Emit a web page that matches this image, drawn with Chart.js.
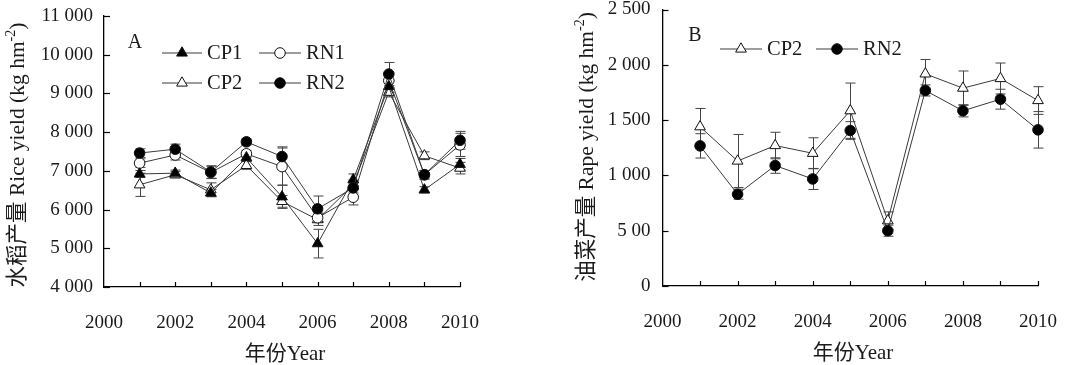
<!DOCTYPE html>
<html>
<head>
<meta charset="utf-8">
<script src="https://cdn.jsdelivr.net/npm/chart.js@4.4.1/dist/chart.umd.min.js"></script>
<style>
  html, body { margin: 0; padding: 0; background: #fff; }
  #wrap { position: relative; width: 1075px; height: 365px; }
  .panel { position: absolute; top: 0; height: 365px; }
</style>
</head>
<body>
<div id="wrap">
  <div class="panel" style="left:0;width:540px"><canvas id="chartA" width="540" height="365"></canvas></div>
  <div class="panel" style="left:540px;width:535px"><canvas id="chartB" width="535" height="365"></canvas></div>
</div>
<script>
const years = [2001, 2002, 2003, 2004, 2005, 2006, 2007, 2008, 2009, 2010];
const xLabelYears = [2000, 2002, 2004, 2006, 2008, 2010];

// rice yield (kg/hm2) and error bars
const riceCP1 = [6920, 6940, 6430, 7340, 6330, 5120, 6770, 9180, 6510, 7170];
const riceCP1Err = [90, 80, 90, 90, 300, 370, 150, 150, 80, 150];
const riceCP2 = [6640, 6900, 6510, 7140, 6210, 5740, 6640, 9030, 7390, 7070];
const riceCP2Err = [300, 80, 180, 100, 150, 150, 120, 120, 100, 150];
const riceRN1 = [7200, 7410, 6960, 7440, 7110, 5790, 6320, 9330, 6900, 7670];
const riceRN1Err = [110, 130, 160, 90, 480, 120, 200, 200, 110, 300];
const riceRN2 = [7460, 7560, 6970, 7750, 7370, 6020, 6560, 9500, 6900, 7790];
const riceRN2Err = [110, 130, 160, 80, 250, 330, 130, 300, 110, 230];
const riceTickLabels = ['4 000', '5 000', '6 000', '7 000', '8 000', '9 000', '10 000', '11 000'];

// rape yield
const rapeCP2 = [1440, 1130, 1270, 1200, 1585, 590, 1918, 1789, 1876, 1677];
const rapeCP2Err = [165, 240, 120, 140, 250, 80, 130, 155, 140, 125];
const rapeRN2 = [1267, 830, 1089, 968, 1406, 500, 1768, 1584, 1689, 1412];
const rapeRN2Err = [110, 45, 70, 95, 80, 50, 50, 55, 90, 165];
const rapeTickLabels = ['0', '5 00', '1 000', '1 500', '2 000', '2 500'];

const FONT = '"Liberation Serif", "Noto Sans CJK SC", serif';
const INK = '#1a1a1a';
const LINE = '#3a3a3a';

function drawMarker(ctx, style, filled, r, x, y) {
  ctx.beginPath();
  if (style === 'triangle') {
    ctx.moveTo(x, y - r);
    ctx.lineTo(x + r * 0.866, y + r * 0.5);
    ctx.lineTo(x - r * 0.866, y + r * 0.5);
    ctx.closePath();
  } else {
    ctx.arc(x, y, r, 0, Math.PI * 2);
  }
  ctx.fillStyle = filled ? '#000' : '#fff';
  ctx.fill();
  ctx.strokeStyle = '#111';
  ctx.lineWidth = 1;
  ctx.stroke();
}

const decorPlugin = {
  id: 'decor',
  beforeDatasetsDraw(chart) {
    const ctx = chart.ctx, xs = chart.scales.x, ys = chart.scales.y;
    ctx.save();
    ctx.strokeStyle = '#444';
    ctx.lineWidth = 1;
    chart.data.datasets.forEach(ds => {
      ds.data.forEach((p, i) => {
        const e = ds.errors[i];
        const x = Math.round(xs.getPixelForValue(p.x)) + 0.5;
        const y1 = ys.getPixelForValue(p.y + e), y2 = ys.getPixelForValue(p.y - e);
        ctx.beginPath();
        ctx.moveTo(x, y1); ctx.lineTo(x, y2);
        ctx.moveTo(x - 5, y1); ctx.lineTo(x + 5, y1);
        ctx.moveTo(x - 5, y2); ctx.lineTo(x + 5, y2);
        ctx.stroke();
      });
    });
    ctx.restore();
  },
  afterDraw(chart, args, opts) {
    const ctx = chart.ctx, xs = chart.scales.x, ys = chart.scales.y;
    const area = chart.chartArea;
    ctx.save();
    // inward ticks
    ctx.strokeStyle = '#000';
    ctx.lineWidth = 1.2;
    ys.ticks.forEach(t => {
      const y = Math.round(ys.getPixelForValue(t.value)) + 0.5;
      ctx.beginPath(); ctx.moveTo(area.left, y); ctx.lineTo(area.left + 6, y); ctx.stroke();
    });
    years.forEach(v => {
      const x = Math.round(xs.getPixelForValue(v)) + 0.5;
      ctx.beginPath(); ctx.moveTo(x, area.bottom); ctx.lineTo(x, area.bottom - 5); ctx.stroke();
    });
    // panel letter
    ctx.fillStyle = INK;
    ctx.font = '20px ' + FONT;
    ctx.textAlign = 'center';
    ctx.textBaseline = 'middle';
    ctx.fillText(opts.letter.text, opts.letter.x, opts.letter.y);
    // legend
    opts.legend.forEach(item => {
      const ds = chart.data.datasets[item.ds];
      ctx.strokeStyle = LINE;
      ctx.lineWidth = 1;
      ctx.beginPath(); ctx.moveTo(item.x, item.y); ctx.lineTo(item.x + item.len, item.y); ctx.stroke();
      drawMarker(ctx, ds.pointStyle, ds.filled, ds.pointRadius, item.x + item.len / 2, item.y);
      ctx.fillStyle = INK;
      ctx.font = '20.5px ' + FONT;
      ctx.textAlign = 'left';
      ctx.fillText(ds.label, item.x + item.len + 5, item.y + 1);
    });
    // x title
    ctx.textAlign = 'center';
    ctx.font = '21px ' + FONT;
    ctx.fillText(opts.xTitle.text, opts.xTitle.x, opts.xTitle.y);
    // y title (rotated, with superscript)
    const t = opts.yTitle;
    ctx.translate(t.x, t.y);
    ctx.rotate(-Math.PI / 2);
    ctx.font = '21.5px ' + FONT;
    const w1 = ctx.measureText(t.main).width;
    ctx.font = '14px ' + FONT;
    const w2 = ctx.measureText(t.sup).width;
    ctx.font = '21.5px ' + FONT;
    const w3 = ctx.measureText(t.tail).width;
    let sx = -(w1 + w2 + w3) / 2;
    ctx.textAlign = 'left';
    ctx.fillText(t.main, sx, 0);
    ctx.font = '14px ' + FONT;
    ctx.fillText(t.sup, sx + w1, -7);
    ctx.font = '21.5px ' + FONT;
    ctx.fillText(t.tail, sx + w1 + w2, 0);
    ctx.restore();
  }
};

function makeChart(id, cfg) {
  return new Chart(document.getElementById(id), {
    type: 'line',
    data: {
      datasets: cfg.series.map(s => ({
        label: s.label,
        data: years.map((y, i) => ({ x: y, y: s.values[i] })),
        errors: s.errors,
        filled: s.filled,
        order: s.order,
        clip: false,
        borderColor: LINE,
        borderWidth: 1,
        pointStyle: s.style,
        pointRadius: s.style === 'triangle' ? 6.2 : 5.3,
        pointBackgroundColor: s.filled ? '#000' : '#fff',
        pointBorderColor: '#111',
        pointBorderWidth: 1,
        tension: 0,
        fill: false
      }))
    },
    options: {
      responsive: false,
      animation: false,
      devicePixelRatio: 1,
      layout: { padding: cfg.padding },
      plugins: { legend: { display: false }, tooltip: { enabled: false }, decor: cfg.decor },
      scales: {
        x: {
          type: 'linear', min: 2000, max: 2010,
          ticks: {
            stepSize: 1, autoSkip: false, maxRotation: 0, padding: 25,
            color: INK, font: { family: FONT, size: 19 },
            callback: v => xLabelYears.includes(v) ? String(v) : ''
          },
          grid: { display: false, drawTicks: false },
          border: { display: true, color: '#000', width: 1.3 },
          afterFit: s => { s.height = cfg.xHeight; s.paddingLeft = 0; s.paddingRight = 0; }
        },
        y: {
          min: cfg.yMin, max: cfg.yMax,
          ticks: {
            stepSize: cfg.yStep, padding: cfg.yPad,
            color: INK, font: { family: FONT, size: 19 },
            callback: v => cfg.yLabels[Math.round((v - cfg.yMin) / cfg.yStep)]
          },
          grid: { display: false, drawTicks: false },
          border: { display: true, color: '#000', width: 1.3 },
          afterFit: s => { s.width = cfg.yWidth; s.paddingTop = 0; s.paddingBottom = 0; }
        }
      }
    },
    plugins: [decorPlugin]
  });
}

makeChart('chartA', {
  series: [
    { label: 'CP1', values: riceCP1, errors: riceCP1Err, style: 'triangle', filled: true, order: 1 },
    { label: 'RN1', values: riceRN1, errors: riceRN1Err, style: 'circle', filled: false, order: 2 },
    { label: 'CP2', values: riceCP2, errors: riceCP2Err, style: 'triangle', filled: false, order: 3 },
    { label: 'RN2', values: riceRN2, errors: riceRN2Err, style: 'circle', filled: true, order: 0 }
  ],
  yMin: 4000, yMax: 11000, yStep: 1000, yLabels: riceTickLabels,
  yWidth: 104, yPad: 11, xHeight: 78,
  padding: { left: 0, top: 16, right: 80, bottom: 0 },
  decor: {
    letter: { text: 'A', x: 135, y: 43 },
    legend: [
      { ds: 0, x: 162, y: 53, len: 40 },
      { ds: 1, x: 259, y: 53, len: 42 },
      { ds: 2, x: 162, y: 83, len: 40 },
      { ds: 3, x: 259, y: 83, len: 42 }
    ],
    xTitle: { text: '年份Year', x: 285, y: 354 },
    yTitle: { main: '水稻产量 Rice yield (kg hm', sup: '-2', tail: ')', x: 18, y: 155 }
  }
});

makeChart('chartB', {
  series: [
    { label: 'CP2', values: rapeCP2, errors: rapeCP2Err, style: 'triangle', filled: false, order: 1 },
    { label: 'RN2', values: rapeRN2, errors: rapeRN2Err, style: 'circle', filled: true, order: 0 }
  ],
  yMin: 0, yMax: 2500, yStep: 500, yLabels: rapeTickLabels,
  yWidth: 122.5, yPad: 12, xHeight: 79,
  padding: { left: 0, top: 9.5, right: 37, bottom: 0 },
  decor: {
    letter: { text: 'B', x: 155, y: 36 },
    legend: [
      { ds: 0, x: 180, y: 49, len: 42 },
      { ds: 1, x: 276, y: 49, len: 42 }
    ],
    xTitle: { text: '年份Year', x: 313, y: 353 },
    yTitle: { main: '油菜产量 Rape yield (kg hm', sup: '-2', tail: ')', x: 47, y: 147 }
  }
});
</script>
</body>
</html>
